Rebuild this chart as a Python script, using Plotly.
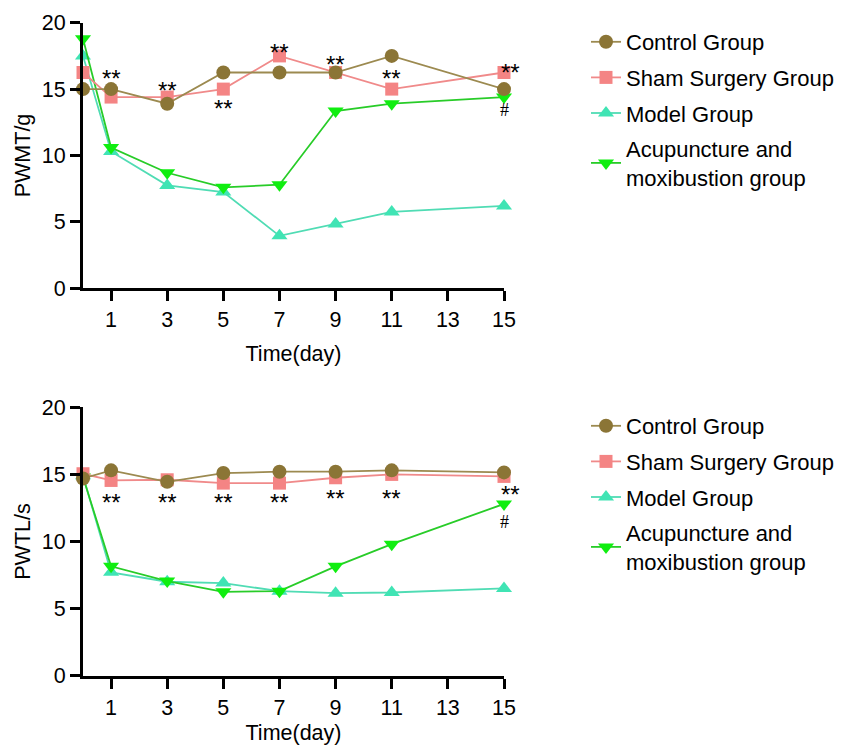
import plotly.graph_objects as go

days = [0, 1, 3, 5, 7, 9, 11, 15]
x_ticks = [1, 3, 5, 7, 9, 11, 13, 15]
y_ticks = [0, 5, 10, 15, 20]

groups = ["Control Group", "Sham Surgery Group", "Model Group", "Acupuncture and<br>moxibustion group"]

# PWMT/g (top panel)
pwmt_control = [15.0, 15.0, 13.9, 16.25, 16.25, 16.25, 17.5, 15.0]
pwmt_sham = [16.25, 14.4, 14.4, 15.0, 17.5, 16.25, 15.0, 16.25]
pwmt_model = [17.5, 10.3, 7.75, 7.25, 3.95, 4.85, 5.75, 6.2]
pwmt_acu = [18.8, 10.6, 8.7, 7.6, 7.8, 13.35, 13.9, 14.4]

# PWTL/s (bottom panel)
pwtl_control = [14.7, 15.3, 14.45, 15.1, 15.2, 15.2, 15.3, 15.15]
pwtl_sham = [15.05, 14.55, 14.6, 14.35, 14.35, 14.75, 15.0, 14.85]
pwtl_model = [14.9, 7.7, 7.0, 6.9, 6.3, 6.15, 6.2, 6.5]
pwtl_acu = [14.8, 8.15, 7.05, 6.25, 6.3, 8.15, 9.8, 12.8]

# significance marks (x, y, text, anchor)
top_marks_x = [1, 3, 5, 7, 9, 11, 15, 15]
top_marks_y = [16.3, 15.4, 14.1, 18.25, 17.35, 16.3, 16.75, 13.4]
top_marks_t = ["**", "**", "**", "**", "**", "**", "**", "#"]
top_marks_a = ["middle"] * 8
bot_marks_x = [1, 3, 5, 7, 9, 11, 15, 15]
bot_marks_y = [13.4, 13.4, 13.4, 13.4, 13.7, 13.7, 12.35, 12.35]
bot_marks_t = ["**", "**", "**", "**", "**", "**", "**", "#"]
bot_marks_a = ["middle"] * 6 + ["bottom", "top"]

colors_marker = ["#8B7536", "#F48484", "#40E4B4", "#10EE10"]
colors_line = ["#9C8A50", "#F08A8A", "#50DCB4", "#28CC28"]
symbols = ["circle", "square", "triangle-up", "triangle-down"]
sizes = [14, 13, 14, 14]
draw_order = [2, 3, 1, 0]  # model, acupuncture, sham, control (last on top)

FONT = "Arial, Liberation Sans, sans-serif"

fig = go.Figure()

panels = [
    ("x", "y", "legend", "a", [pwmt_control, pwmt_sham, pwmt_model, pwmt_acu]),
    ("x2", "y2", "legend2", "b", [pwtl_control, pwtl_sham, pwtl_model, pwtl_acu]),
]

for xa, ya, lg, tag, series in panels:
    for i in draw_order:
        fig.add_trace(go.Scatter(
            x=days, y=series[i], name=groups[i], mode="lines+markers",
            xaxis=xa, yaxis=ya, legend=lg, legendgroup=f"{tag}{i}", legendrank=i + 1,
            cliponaxis=False,
            line=dict(color=colors_line[i], width=1.8),
            marker=dict(symbol=symbols[i], size=sizes[i], color=colors_marker[i],
                        line=dict(width=0)),
        ))

annotations = []
for xs, ys, ts, ans, xr, yr in [(top_marks_x, top_marks_y, top_marks_t, top_marks_a, "x", "y"),
                                (bot_marks_x, bot_marks_y, bot_marks_t, bot_marks_a, "x2", "y2")]:
    for xv, yv, tv, av in zip(xs, ys, ts, ans):
        star = tv == "**"
        annotations.append(dict(
            x=xv, y=yv, xref=xr, yref=yr, text=tv, showarrow=False,
            yanchor=av,
            yshift=-7 if (star and av == "middle") else 0,
            xshift=6 if (star and xv == 15) else 0,
            font=dict(family=FONT if star else "Liberation Serif, Times New Roman, serif",
                      size=24 if star else 18, color="black"),
        ))

axis_common = dict(
    showline=True, linecolor="black", linewidth=3, ticks="outside",
    ticklen=10, tickwidth=3, tickcolor="black", showgrid=False, zeroline=False,
    automargin=False,
    tickfont=dict(family=FONT, size=21.5, color="black"),
)

W, H = 855, 745
xdom = [83 / W, 504 / W]
TF = dict(family=FONT, size=21.5, color="black")
LX = 586 / W
fig.update_layout(
    width=W, height=H, margin=dict(l=0, r=0, t=0, b=0, autoexpand=False),
    autosize=False,
    plot_bgcolor="white", paper_bgcolor="white",
    font=dict(family=FONT, color="black"),
    annotations=annotations,
    xaxis=dict(domain=xdom, range=[0, 15], tickvals=x_ticks, anchor="y",
               title=dict(text="Time(day)", font=TF), **axis_common),
    yaxis=dict(domain=[1 - 288.3 / H, 1 - 22.7 / H], range=[0, 20], tickvals=y_ticks, anchor="x",
               title=dict(text="PWMT/g", font=TF, standoff=6), **axis_common),
    xaxis2=dict(domain=xdom, range=[0, 15], tickvals=x_ticks, anchor="y2",
                title=dict(text="Time(day)", font=TF), **axis_common),
    yaxis2=dict(domain=[1 - 675.7 / H, 1 - 407.3 / H], range=[0, 20], tickvals=y_ticks, anchor="x2",
                title=dict(text="PWTL/s", font=TF, standoff=6), **axis_common),
    legend=dict(x=LX, y=1 - 21 / H, xanchor="left", yanchor="top",
                traceorder="grouped", tracegroupgap=4,
                font=dict(family=FONT, size=22, color="black"),
                bgcolor="rgba(0,0,0,0)"),
    legend2=dict(x=LX, y=1 - 405 / H, xanchor="left", yanchor="top",
                 traceorder="grouped", tracegroupgap=4,
                 font=dict(family=FONT, size=22, color="black"),
                 bgcolor="rgba(0,0,0,0)"),
)

fig.write_html("out.html", config={"displayModeBar": False},
               post_script="document.body.style.margin='0';document.body.style.overflow='hidden';")
